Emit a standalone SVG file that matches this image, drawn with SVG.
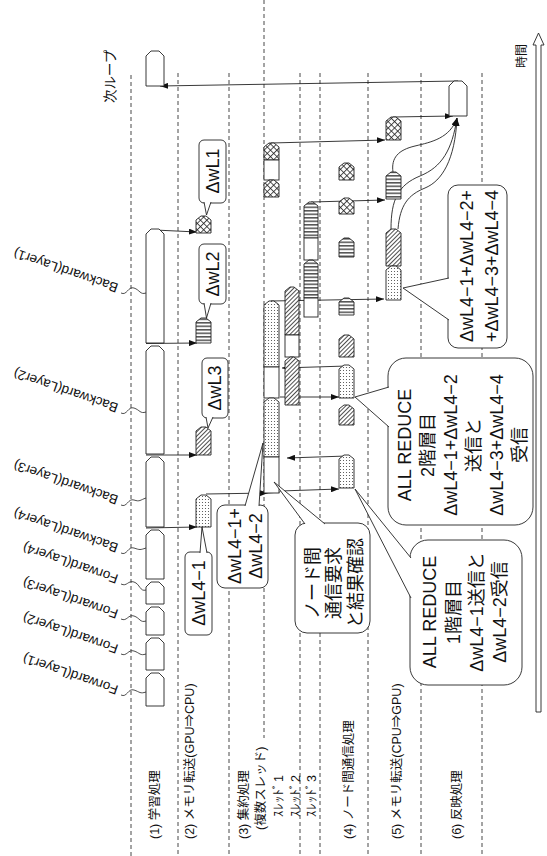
<svg xmlns="http://www.w3.org/2000/svg" width="547" height="856" viewBox="0 0 547 856">
<style>
text{font-family:"Liberation Sans","Noto Sans CJK JP",sans-serif;fill:#111}
.lane{stroke:#333;stroke-width:0.9;stroke-dasharray:4 3;fill:none}
.bx{stroke:#222;stroke-width:0.9}
.w{fill:#fff}
.dt{fill:url(#dots)}
.ht{fill:url(#hatch)}
.st{fill:url(#stripe)}
.cr{fill:url(#cross)}
.cl{fill:#fff;stroke:#222;stroke-width:0.9}
.ar{stroke:#222;stroke-width:0.9;fill:none;marker-end:url(#ah)}
.ln{stroke:#222;stroke-width:0.8;fill:none}
.ct{font-size:18px;text-anchor:middle;dominant-baseline:central}
.lb{font-size:12.5px;dominant-baseline:central}
.ly{font-size:13.5px}
</style>
<defs>
<pattern id="dots" width="3" height="3" patternUnits="userSpaceOnUse"><rect width="3" height="3" fill="#fff"/><circle cx="1.5" cy="1.5" r="0.55" fill="#444"/></pattern>
<pattern id="hatch" width="3" height="3" patternUnits="userSpaceOnUse" patternTransform="rotate(45)"><rect width="3" height="3" fill="#fff"/><line x1="0.5" y1="0" x2="0.5" y2="3" stroke="#222" stroke-width="0.8"/></pattern>
<pattern id="stripe" width="4" height="3.5" patternUnits="userSpaceOnUse"><rect width="4" height="3.5" fill="#fff"/><line x1="0" y1="0.8" x2="4" y2="0.8" stroke="#222" stroke-width="1.2"/></pattern>
<pattern id="cross" width="4.5" height="4.5" patternUnits="userSpaceOnUse" patternTransform="rotate(45)"><rect width="4.5" height="4.5" fill="#fff"/><line x1="0.5" y1="0" x2="0.5" y2="4.5" stroke="#222" stroke-width="0.8"/><line x1="0" y1="0.5" x2="4.5" y2="0.5" stroke="#222" stroke-width="0.8"/></pattern>
<marker id="ah" markerWidth="8" markerHeight="6" refX="8" refY="3" orient="auto" markerUnits="userSpaceOnUse"><path d="M0,0 L8,3 L0,6 Z" fill="#111"/></marker>
</defs>

<g id="lanes">
<line class="lane" x1="131" y1="75" x2="131" y2="856"/>
<line class="lane" x1="178" y1="73" x2="178" y2="856"/>
<line class="lane" x1="229" y1="73" x2="229" y2="856"/>
<line class="lane" x1="264" y1="0" x2="264" y2="738"/>
<line class="lane" x1="300" y1="73" x2="300" y2="856"/>
<line class="lane" x1="320" y1="73" x2="320" y2="856"/>
<line class="lane" x1="368" y1="73" x2="368" y2="856"/>
<line class="lane" x1="421" y1="73" x2="421" y2="856"/>
<line class="lane" x1="482" y1="73" x2="482" y2="856"/>
</g>

<g id="time-axis">
<path d="M536,712 V45 H533 L538.5,33 L544,45 H541 V712 Z" fill="#fff" stroke="#222" stroke-width="0.9"/>
<text transform="translate(522,68) rotate(-90)" style="font-size:12px;dominant-baseline:central">時間</text>
</g>

<g id="lane-labels" class="lb">
<text class="lb" transform="translate(155,839) rotate(-90)">(1) 学習処理</text>
<text class="lb" transform="translate(190,839) rotate(-90)">(2) メモリ転送(GPU⇒CPU)</text>
<text class="lb" transform="translate(244,839) rotate(-90)">(3) 集約処理</text>
<text class="lb" transform="translate(261,830) rotate(-90)">(複数スレッド)</text>
<text class="lb" transform="translate(279,817) rotate(-90)" textLength="42" lengthAdjust="spacing">ｽﾚｯﾄﾞ1</text>
<text class="lb" transform="translate(296,817) rotate(-90)" textLength="42" lengthAdjust="spacing">ｽﾚｯﾄﾞ2</text>
<text class="lb" transform="translate(312,817) rotate(-90)" textLength="42" lengthAdjust="spacing">ｽﾚｯﾄﾞ3</text>
<text class="lb" transform="translate(349,839) rotate(-90)">(4) ノード間通信処理</text>
<text class="lb" transform="translate(397,839) rotate(-90)">(5) メモリ転送(CPU⇒GPU)</text>
<text class="lb" transform="translate(457,839) rotate(-90)">(6) 反映処理</text>
</g>

<g id="connectors">
<path class="ar" d="M458,81 L160,86"/>
<path class="ar" d="M393,117 L453,116"/>
<path class="ar" d="M271,143 L385,140"/>
<path class="ar" d="M311,202 L385,200"/>
<path class="ar" d="M271,301 L384,299"/>
<path class="ar" d="M280,397 L339,397"/>
<path class="ar" d="M347,366 L282,368"/>
<path class="ar" d="M280,491 L339,489"/>
<path class="ar" d="M347,456 L287,458"/>
<path class="ar" d="M206,494 L268,493"/>
<path class="ln" d="M268,493 L280,492"/>
<path class="ar" d="M155,230 L197,232"/>
<path class="ar" d="M146,343.5 L197,343"/>
<path class="ar" d="M146,455 L197,455"/>
<path class="ar" d="M146,528 L197,527"/>
<path class="ar" d="M393,172 C391,158 398,150 415,146 S450,138 457,118"/>
<path class="ar" d="M391,229 C391,200 398,185 420,176 S452,150 457,118"/>
<path class="ar" d="M398,229 C400,205 408,195 425,188 S455,160 457,118"/>
</g>

<g id="learning">
<g id="next-loop"><path class="bx w" d="M146,86 V56 L151,51 H159 L164,56 V86 Z"/>
<text transform="translate(110,103) rotate(-90)" style="font-size:13.5px;dominant-baseline:central">次ループ</text></g>
<g id="backward1"><path class="bx w" d="M146,343 V234 L151,229 H159 L164,234 V343 Z"/></g>
<g id="backward2"><path class="bx w" d="M146,454 V351 L151,346 H159 L164,351 V454 Z"/></g>
<g id="backward3"><path class="bx w" d="M146,527 V462 L151,457 H159 L164,462 V527 Z"/></g>
<g id="backward4"><path class="bx w" d="M146,579 V535 L151,530 H159 L164,535 V579 Z"/></g>
<g id="forward4"><path class="bx w" d="M146,604 V587 L151,582 H159 L164,587 V604 Z"/></g>
<g id="forward3"><path class="bx w" d="M146,635 V612 L151,607 H159 L164,612 V635 Z"/></g>
<g id="forward2"><path class="bx w" d="M146,670 V643 L151,638 H159 L164,643 V670 Z"/></g>
<g id="forward1"><path class="bx w" d="M146,706 V678 L151,673 H159 L164,678 V706 Z"/></g>
</g>

<g id="layer-labels">
<text class="ly" transform="translate(119,284) rotate(199)">Backward(Layer1)</text>
<path class="ln" d="M121,293 C127,296 128,286 134,288 S140,295 146,293"/>
<text class="ly" transform="translate(119,404) rotate(199)">Backward(Layer2)</text>
<path class="ln" d="M121,413 C127,416 128,406 134,408 S140,414 146,412"/>
<text class="ly" transform="translate(119,496) rotate(199)">Backward(Layer3)</text>
<path class="ln" d="M121,505 C127,508 128,498 134,500 S140,500 146,498"/>
<text class="ly" transform="translate(119,544) rotate(199)">Backward(Layer4)</text>
<path class="ln" d="M121,553 C127,556 128,546 134,548 S140,550 146,548"/>
<text class="ly" transform="translate(119,575) rotate(199)">Forward(Layer4)</text>
<path class="ln" d="M121,584 C127,587 128,580 134,582 S140,592 146,590"/>
<text class="ly" transform="translate(119,610) rotate(199)">Forward(Layer3)</text>
<path class="ln" d="M121,619 C127,622 128,614 134,616 S140,623 146,621"/>
<text class="ly" transform="translate(119,645) rotate(199)">Forward(Layer2)</text>
<path class="ln" d="M121,654 C127,657 128,649 134,651 S140,656 146,654"/>
<text class="ly" transform="translate(119,686) rotate(199)">Forward(Layer1)</text>
<path class="ln" d="M121,695 C127,698 128,688 134,690 S140,694 146,692"/>
</g>

<g id="memcopy-gpu-cpu">
<g id="dwL1"><path class="bx cr" d="M196,233 V220 L201,216 H206 L211,220 V233 Z"/></g>
<g id="dwL2"><path class="bx st" d="M196,343 V322 L201,318 H206 L211,322 V343 Z"/></g>
<g id="dwL3"><path class="bx ht" d="M196,455 V431 L201,427 H206 L211,431 V455 Z"/></g>
<g id="dwL4-1"><path class="bx dt" d="M196,527 V499 L201,495 H206 L211,499 V527 Z"/></g>
</g>

<g id="thread1">
<path class="bx cr" d="M264,160 V147 L269,143 H274 L279,147 V160 Z"/>
<rect class="bx w" x="264" y="160" width="15" height="20"/>
<path class="bx cr" d="M264,197 V184 L269,180 H274 L279,184 V197 Z"/>
<path class="bx dt" d="M264,367 V305 L269,301 H274 L279,305 V367 Z"/>
<rect class="bx w" x="264" y="367" width="15" height="31"/>
<path class="bx dt" d="M264,457 V402 L269,398 H274 L279,402 V457 Z"/>
<rect class="bx w" x="264" y="457" width="15" height="36"/>
</g>
<g id="thread2">
<path class="bx ht" d="M285,335 V291 L290,287 H294 L299,291 V335 Z"/>
<rect class="bx w" x="285" y="335" width="14" height="22"/>
<path class="bx ht" d="M285,405 V361 L290,357 H294 L299,361 V405 Z"/>
</g>
<g id="thread3">
<path class="bx st" d="M304,238 V206 L309,202 H313 L318,206 V238 Z"/>
<rect class="bx w" x="304" y="238" width="14" height="22"/>
<path class="bx st" d="M304,298 V264 L309,260 H313 L318,264 V298 Z"/>
<rect class="bx w" x="304" y="298" width="14" height="19"/>
</g>

<g id="internode">
<path class="bx cr" d="M339,180 V167 L344,163 H349 L354,167 V180 Z"/>
<path class="bx cr" d="M339,214 V202 L344,198 H349 L354,202 V214 Z"/>
<path class="bx st" d="M339,257 V242 L344,238 H349 L354,242 V257 Z"/>
<path class="bx st" d="M339,315 V302 L344,298 H349 L354,302 V315 Z"/>
<path class="bx ht" d="M339,357 V339 L344,335 H349 L354,339 V357 Z"/>
<path class="bx dt" d="M339,398 V369 L344,365 H349 L354,369 V398 Z"/>
<path class="bx ht" d="M339,425 V409 L344,405 H349 L354,409 V425 Z"/>
<path class="bx dt" d="M339,488 V459 L344,455 H349 L354,459 V488 Z"/>
</g>

<g id="memcopy-cpu-gpu">
<path class="bx cr" d="M386,140 V121 L391,117 H396 L401,121 V140 Z"/>
<path class="bx st" d="M386,199 V176 L391,172 H396 L401,176 V199 Z"/>
<path class="bx ht" d="M386,266 V233 L391,229 H396 L401,233 V266 Z"/>
<path class="bx dt" d="M386,300 V270 L391,266 H396 L401,270 V300 Z"/>
</g>

<g id="reflect"><path class="bx w" d="M449,116 V86 L454,81 H462 L467,86 V116 Z"/></g>

<g id="callout-dwL1">
<rect class="cl" x="199" y="140" width="27" height="63" rx="5"/>
<path class="cl" d="M204,202 L206.5,215 L211,202"/>
<text class="ct" transform="translate(213,171) rotate(-90)">ΔwL1</text>
</g>
<g id="callout-dwL2">
<rect class="cl" x="199" y="244" width="27" height="60" rx="5"/>
<path class="cl" d="M204,303 L206.5,318 L211,303"/>
<text class="ct" transform="translate(213,274) rotate(-90)">ΔwL2</text>
</g>
<g id="callout-dwL3">
<rect class="cl" x="202" y="358" width="26" height="60" rx="5"/>
<path class="cl" d="M206,417 L208,428 L213,417"/>
<text class="ct" transform="translate(215,388) rotate(-90)">ΔwL3</text>
</g>
<g id="callout-dwL4-1">
<rect class="cl" x="185" y="552" width="27" height="83" rx="5"/>
<path class="cl" d="M200,553 L202,527 L207,553"/>
<text class="ct" transform="translate(198.5,593) rotate(-90)">ΔwL4−1</text>
</g>
<g id="callout-dwL4-12">
<rect class="cl" x="217" y="505" width="51" height="83" rx="8"/>
<path class="cl" d="M245,506 L263,443 L259,506"/>
<text class="ct" transform="translate(245.5,546) rotate(-90)"><tspan x="0" y="-10.5">ΔwL4−1+</tspan><tspan x="0" y="10.5">ΔwL4−2</tspan></text>
</g>
<g id="callout-request">
<rect class="cl" x="295" y="523" width="75" height="110" rx="12"/>
<path class="cl" d="M305,524 L274,482 L325,524"/>
<text class="ct" transform="translate(334,583) rotate(-90)"><tspan x="0" y="-21.5">ノード間</tspan><tspan x="0" y="0">通信要求</tspan><tspan x="0" y="21.5">と結果確認</tspan></text>
</g>
<g id="callout-allreduce1">
<rect class="cl" x="410" y="540" width="112" height="145" rx="18"/>
<path class="cl" d="M411,558 L355,489 L411,598"/>
<text class="ct" transform="translate(465,612) rotate(-90)"><tspan x="0" y="-35">ALL REDUCE</tspan><tspan x="0" y="-11.5">1階層目</tspan><tspan x="0" y="11.5">ΔwL4−1送信と</tspan><tspan x="0" y="35">ΔwL4−2受信</tspan></text>
</g>
<g id="callout-allreduce2">
<rect class="cl" x="388" y="358" width="145" height="167" rx="18"/>
<path class="cl" d="M389,387 L355,397 L389,427"/>
<text class="ct" transform="translate(462.5,445) rotate(-90)"><tspan x="0" y="-57.5">ALL REDUCE</tspan><tspan x="0" y="-34.5">2階層目</tspan><tspan x="0" y="-11.5">ΔwL4−1+ΔwL4−2</tspan><tspan x="0" y="11.5">送信と</tspan><tspan x="0" y="34.5">ΔwL4−3+ΔwL4−4</tspan><tspan x="0" y="57.5">受信</tspan></text>
</g>
<g id="callout-sum">
<rect class="cl" x="448" y="185" width="59" height="163" rx="10"/>
<path class="cl" d="M449,278 L403,288 L449,320"/>
<text class="ct" transform="translate(479.5,266) rotate(-90)"><tspan x="0" y="-12.5">ΔwL4−1+ΔwL4−2+</tspan><tspan x="0" y="12.5">+ΔwL4−3+ΔwL4−4</tspan></text>
</g>
</svg>
